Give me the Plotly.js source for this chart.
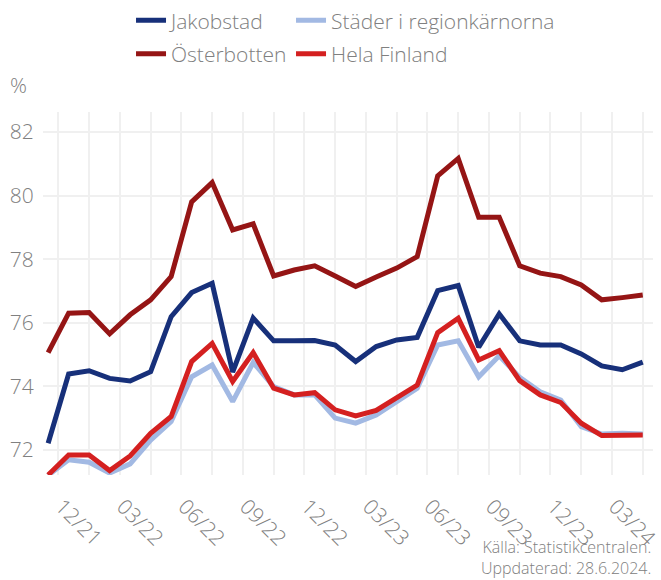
<!DOCTYPE html>
<html><head><meta charset="utf-8">
<script src="https://cdn.plot.ly/plotly-3.0.1.min.js"></script>
<style>html,body{margin:0;padding:0;background:#fff}#chart{width:661px;height:580px}</style>
</head><body><div id="chart"></div>
<script>
const months = ['11/21','12/21','01/22','02/22','03/22','04/22','05/22','06/22','07/22','08/22','09/22','10/22','11/22','12/22',
  '01/23','02/23','03/23','04/23','05/23','06/23','07/23','08/23','09/23','10/23','11/23','12/23','01/24','02/24','03/24','04/24'];
const tickLabels = ['12/21','03/22','06/22','09/22','12/22','03/23','06/23','09/23','12/23','03/24'];
const seriesNames = ['Jakobstad','Städer i regionkärnorna','Österbotten','Hela Finland'];
const jakobstad = [72.21,74.39,74.49,74.25,74.17,74.46,76.19,76.95,77.24,74.45,76.15,75.43,75.43,75.44,75.30,74.78,75.25,75.46,75.54,77.01,77.17,75.23,76.28,75.43,75.30,75.30,75.02,74.64,74.52,74.76];
const stader = [71.20,71.69,71.61,71.27,71.56,72.31,72.89,74.30,74.67,73.52,74.75,73.99,73.73,73.73,73.00,72.84,73.10,73.52,73.94,75.30,75.43,74.30,74.96,74.28,73.83,73.57,72.73,72.50,72.52,72.50];
const osterbotten = [75.06,76.30,76.32,75.65,76.25,76.72,77.45,79.80,80.41,78.92,79.11,77.47,77.66,77.79,77.47,77.14,77.44,77.72,78.08,80.62,81.17,79.32,79.32,77.79,77.56,77.45,77.19,76.72,76.79,76.87];
const finland = [71.21,71.84,71.84,71.35,71.81,72.52,73.05,74.78,75.35,74.15,75.06,73.94,73.73,73.80,73.26,73.07,73.24,73.66,74.04,75.69,76.14,74.83,75.12,74.18,73.73,73.49,72.84,72.45,72.47,72.47];
const yTicks = [72,74,76,78,80,82];

const xIdx = months.map((m, i) => i);
// grid lines every 1.5 months, at the start of a month; labels every 3 months
const tickvals = [], ticktext = [];
for (let k = 0.5; k <= months.length - 1 + 0.001; k += 1.5) {
  tickvals.push(k);
  const m = months[Math.round(k + 0.5)];
  ticktext.push(Number.isInteger(k + 0.5) && tickLabels.includes(m) ? m : '');
}

const colors = ['#17307a','#a2b9e3','#951515','#d42020'];
const values = [jakobstad, stader, osterbotten, finland];
const legendsOf = ['legend','legend','legend2','legend2'];
const legendWidths = [115, 290, 115, 220];
const traces = values.map((v, i) => ({
  type: 'scatter', mode: 'lines', x: xIdx, y: v, name: seriesNames[i],
  line: {color: colors[i], width: 5}, legend: legendsOf[i], legendwidth: legendWidths[i], hoverinfo: 'x+y'
}));

const FONT = '"Open Sans", Lato, sans-serif';
const grid = '#f0f0f0';
const textColor = '#808080';
const legendBase = {orientation: 'h', xanchor: 'left', yanchor: 'middle',
  font: {family: FONT, size: 21, color: textColor, weight: 300}, bgcolor: 'rgba(0,0,0,0)'};
const layout = {
  width: 661, height: 580,
  margin: {l: 43, r: 8, t: 112, b: 105, autoexpand: false},
  paper_bgcolor: '#fff', plot_bgcolor: '#fff',
  font: {family: FONT, size: 21, color: textColor, weight: 300},
  showlegend: true,
  xaxis: {range: [-0.25, 29.5], tickmode: 'array', tickvals: tickvals, ticktext: ticktext, tickangle: 45,
    showgrid: true, gridcolor: grid, gridwidth: 2, zeroline: false, showline: false,
    ticks: 'outside', ticklen: 10, tickcolor: 'rgba(0,0,0,0)', ticklabelshift: 3, ticklabeloverflow: 'allow',
    tickfont: {family: FONT, size: 21, color: textColor, weight: 300}, fixedrange: true},
  yaxis: {range: [71.21, 82.63], tickmode: 'array', tickvals: yTicks, showgrid: true, gridcolor: grid, gridwidth: 2,
    zeroline: false, showline: false, ticks: 'outside', ticklen: 4, tickcolor: 'rgba(0,0,0,0)',
    tickfont: {family: FONT, size: 21, color: textColor, weight: 300}, fixedrange: true},
  legend: Object.assign({x: 0.1443, y: 1.2515}, legendBase),
  legend2: Object.assign({x: 0.1443, y: 1.1598}, legendBase),
  annotations: [
    {text: '%', xref: 'paper', yref: 'paper', x: -0.0574, y: 1.0744, xanchor: 'left', yanchor: 'middle', showarrow: false,
      font: {family: FONT, size: 21, color: textColor, weight: 300}},
    {text: 'Källa: Statistikcentralen.<br>Uppdaterad: 28.6.2024.', xref: 'paper', yref: 'paper', x: 1.0, y: -0.291,
      xanchor: 'right', yanchor: 'bottom', align: 'right', showarrow: false,
      font: {family: FONT, size: 16, color: textColor, weight: 300}}
  ]
};
Plotly.newPlot('chart', traces, layout, {displayModeBar: false, staticPlot: true});
</script></body></html>
